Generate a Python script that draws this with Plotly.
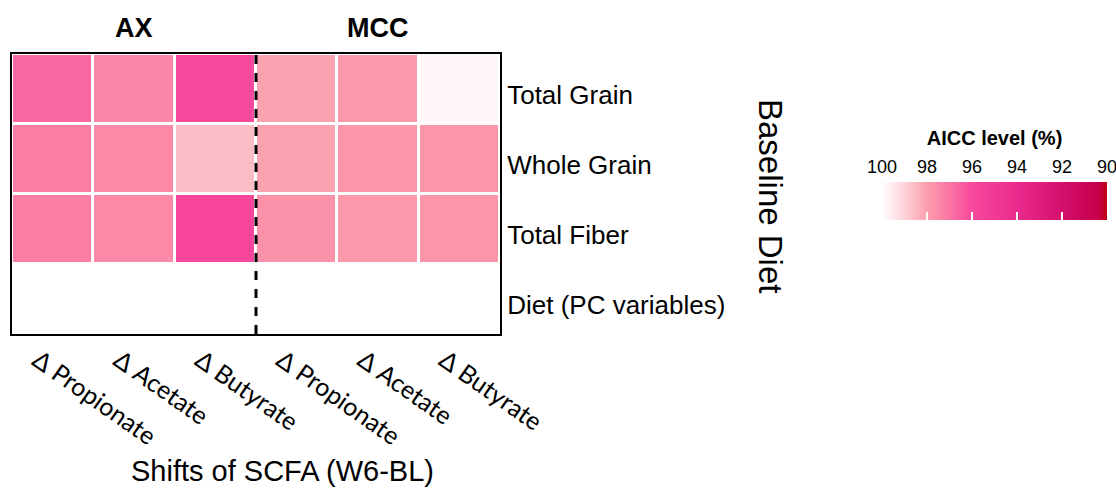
import plotly.graph_objects as go

W, H = 1116, 493

# ---- data ----
scfa_labels = ["Δ Propionate", "Δ Acetate", "Δ Butyrate",
               "Δ Propionate", "Δ Acetate", "Δ Butyrate"]
groups = ["AX", "MCC"]
diet_rows = ["Total Grain", "Whole Grain", "Total Fiber", "Diet (PC variables)"]

total_grain = [96.7, 97.4, 96.0, 98.1, 97.9, 99.8]
whole_grain = [97.2, 97.5, 98.6, 98.1, 97.8, 97.8]
total_fiber = [97.2, 97.5, 95.8, 97.7, 97.9, 97.8]
diet_pc = [None, None, None, None, None, None]

cbar_ticks = [100, 98, 96, 94, 92, 90]

rows_vals = [total_grain, whole_grain, total_fiber, diet_pc]
# negate so that the colour bar reads 100 (left) -> 90 (right)
z = [[(-v if v is not None else None) for v in r] for r in rows_vals]
custom = [[(v if v is not None else float("nan")) for v in r] for r in rows_vals]

colorscale = [
    [0.0, "#ffffff"],
    [0.1, "#fdd3da"],
    [0.2, "#fb9dab"],
    [0.3, "#fb76a4"],
    [0.4, "#f9499d"],
    [0.6, "#ea2a8c"],
    [0.8, "#d4106c"],
    [0.96, "#c6004c"],
    [1.0, "#c00010"],
]

def px(x):
    return x / W

def py(y):
    return 1 - y / H

fig = go.Figure()
fig.add_trace(go.Heatmap(
    z=z,
    x=list(range(len(scfa_labels))),
    y=diet_rows,
    customdata=custom,
    hovertemplate="%{y}<br>%{x}<br>AICC level: %{customdata:.1f}%<extra></extra>",
    colorscale=colorscale,
    zmin=-100, zmax=-90,
    xgap=3, ygap=3,
    colorbar=dict(
        orientation="h",
        lenmode="pixels", len=225,
        thickness=38,
        x=px(994.5), xanchor="center",
        y=py(182), yanchor="top",
        xpad=0, ypad=0,
        outlinewidth=0,
        ticks="inside", tickcolor="white", ticklen=8, tickwidth=2,
        tickvals=[-t for t in cbar_ticks],
        showticklabels=False,
    ),
))

# invisible trace so the colour-bar label axis is drawn
fig.add_trace(go.Scatter(x=cbar_ticks, y=[0] * len(cbar_ticks), xaxis="x2", yaxis="y2",
                         mode="markers", marker=dict(opacity=0), hoverinfo="skip",
                         showlegend=False))

sans = "Liberation Sans, Arial, sans-serif"

fig.update_layout(
    width=W, height=H, autosize=False,
    margin=dict(l=0, r=0, t=0, b=0, autoexpand=False),
    paper_bgcolor="white", plot_bgcolor="white",
    font=dict(family=sans, color="black"),
    xaxis=dict(
        domain=[px(12), px(500)],
        range=[-0.5, 5.5],
        tickvals=list(range(len(scfa_labels))),
        ticktext=scfa_labels,
        tickangle=35,
        tickfont=dict(family="Lato, Carlito, sans-serif", size=25, color="black"),
        ticklabelshift=-15,
        ticks="",
        showgrid=False, zeroline=False,
        showline=True, linecolor="black", linewidth=2, mirror=True,
        fixedrange=True,
    ),
    yaxis=dict(
        domain=[py(334), py(54)],
        autorange="reversed",
        side="right",
        tickfont=dict(family=sans, size=26, color="black"),
        ticklabelshift=-6,
        ticks="",
        showgrid=False, zeroline=False,
        showline=True, linecolor="black", linewidth=2, mirror=True,
        fixedrange=True,
    ),
    xaxis2=dict(
        domain=[px(877.5), px(1111.5)],
        anchor="y2",
        side="top",
        range=[100.2, 89.8],
        tickvals=cbar_ticks,
        tickfont=dict(family=sans, size=18, color="black"),
        ticks="",
        ticklabeloverflow="allow",
        showgrid=False, zeroline=False, showline=False,
        title=dict(text="<b>AICC level (%)</b>", font=dict(family=sans, size=20, color="black"), standoff=6),
        fixedrange=True,
    ),
    yaxis2=dict(
        domain=[py(182), py(178)],
        anchor="x2",
        range=[-1, 1],
        visible=False,
        fixedrange=True,
    ),
    showlegend=False,
)

# group separator between AX and MCC
fig.add_shape(type="line", xref="x", yref="paper",
              x0=2.5, x1=2.5, y0=py(334), y1=py(54),
              line=dict(color="black", width=3, dash="dash"))

# group labels
for g, xc in zip(groups, [1, 4]):
    fig.add_annotation(text=f"<b>{g}</b>", x=xc, xref="x", y=py(28), yref="paper",
                       showarrow=False, font=dict(family=sans, size=27, color="black"),
                       xanchor="center", yanchor="middle")

fig.add_annotation(text="Baseline Diet", x=px(771), y=py(196), xref="paper", yref="paper",
                   textangle=90, showarrow=False,
                   font=dict(family=sans, size=33, color="black"),
                   xanchor="center", yanchor="middle")

fig.add_annotation(text="Shifts of SCFA (W6-BL)", x=px(282), y=py(471), xref="paper", yref="paper",
                   showarrow=False, font=dict(family=sans, size=29, color="black"),
                   xanchor="center", yanchor="middle")

fig.write_html("out.html", config={"responsive": False, "displayModeBar": False},
               post_script="document.body.style.margin='0';document.body.style.overflow='hidden';")
